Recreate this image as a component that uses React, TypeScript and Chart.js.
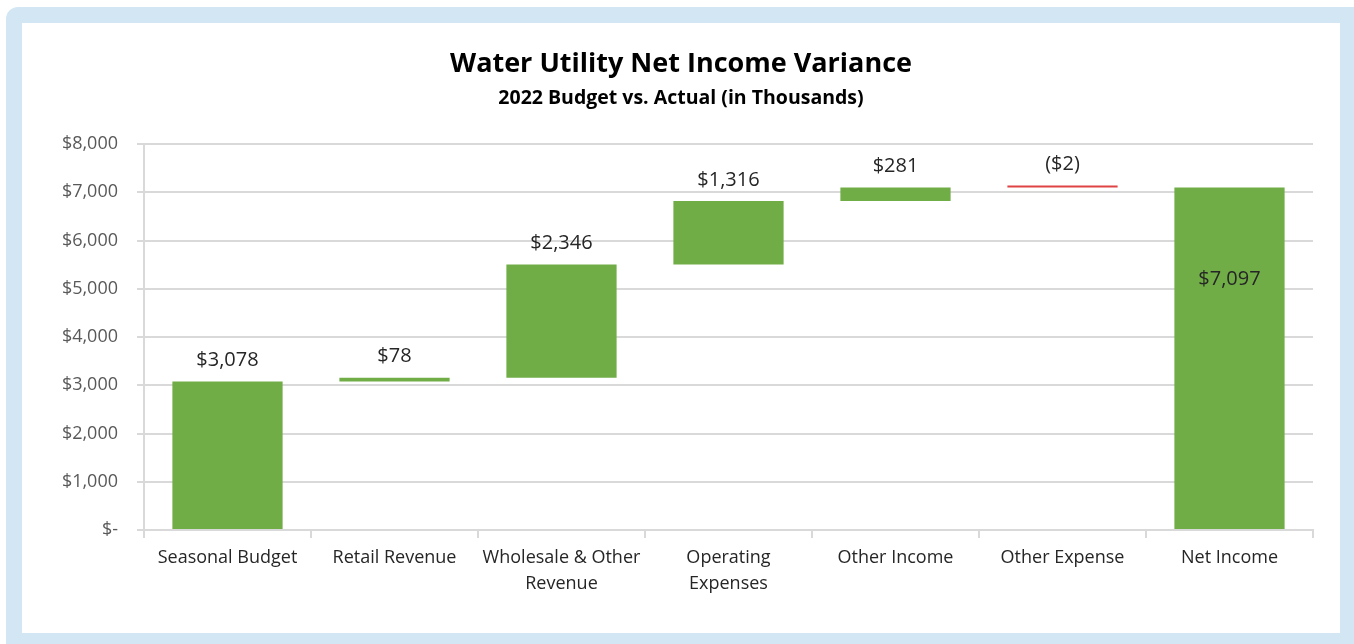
import React, { useEffect, useRef } from "react";
import { Chart, registerables } from "chart.js";

Chart.register(...registerables);

// ---- data ----
const categories: string[][] = [
  ["Seasonal Budget"],
  ["Retail Revenue"],
  ["Wholesale & Other", "Revenue"],
  ["Operating", "Expenses"],
  ["Other Income"],
  ["Other Expense"],
  ["Net Income"],
];
const changes = [3078, 78, 2346, 1316, 281, -2, 7097];
const barKinds = ["total", "delta", "delta", "delta", "delta", "delta", "total"];
const yMin = 0;
const yMax = 8000;
const yStep = 1000;

const titleText = "Water Utility Net Income Variance";
const subtitleText = "2022 Budget vs. Actual (in Thousands)";

const FONT = '"Open Sans", "Noto Sans", sans-serif';
const GREEN = "#70ad47";
const RED = "#e04343";

function buildRanges(): [number, number][] {
  let run = 0;
  return changes.map((v, i) => {
    if (barKinds[i] === "total") {
      run = v;
      return [0, v] as [number, number];
    }
    const start = run;
    run += v;
    return [start, run] as [number, number];
  });
}

function fmtLabel(v: number): string {
  const s = "$" + Math.abs(v).toLocaleString("en-US");
  return v < 0 ? "(" + s + ")" : s;
}

const labelPlugin = {
  id: "wfLabels",
  afterDatasetsDraw(chart: any) {
    const meta = chart.getDatasetMeta(0);
    const ctx = chart.ctx;
    ctx.save();
    ctx.font = `20px ${FONT}`;
    ctx.fillStyle = "#262626";
    ctx.textAlign = "center";
    ctx.textBaseline = "middle";
    meta.data.forEach((bar: any, i: number) => {
      const { x, y, base } = bar.getProps(["x", "y", "base"], true);
      const top = Math.min(y, base);
      const bottom = Math.max(y, base);
      const last = i === changes.length - 1;
      const ty = last ? top + (bottom - top) * 0.27 : top - 21;
      ctx.fillText(fmtLabel(changes[i]), x, ty);
    });
    ctx.restore();
  },
};

const titlePlugin = {
  id: "wfTitles",
  afterDraw(chart: any) {
    const ctx = chart.ctx;
    const cx = chart.width / 2;
    ctx.save();
    ctx.textAlign = "center";
    ctx.textBaseline = "middle";
    ctx.fillStyle = "#000000";
    ctx.font = `bold 27px ${FONT}`;
    ctx.fillText(titleText, cx, 41);
    ctx.font = `bold 19.5px ${FONT}`;
    ctx.fillText(subtitleText, cx, 75);
    ctx.restore();
  },
};

function WaterfallChart() {
  const ref = useRef<HTMLCanvasElement | null>(null);
  useEffect(() => {
    if (!ref.current) return;
    const chart = new Chart(ref.current, {
      type: "bar",
      data: {
        labels: categories,
        datasets: [
          {
            data: buildRanges() as any,
            backgroundColor: changes.map((v) => (v < 0 ? RED : GREEN)),
            borderWidth: 0,
            minBarLength: 2,
            barPercentage: 0.66,
            categoryPercentage: 1,
          },
        ],
      },
      options: {
        animation: false,
        responsive: false,
        layout: { padding: { top: 121, right: 27, left: 0, bottom: 0 } },
        plugins: {
          legend: { display: false },
          tooltip: { enabled: false },
          title: { display: false },
        },
        scales: {
          x: {
            grid: {
              display: true,
              drawOnChartArea: false,
              drawTicks: true,
              tickLength: 8,
              offset: true,
              color: "#d9d9d9",
              lineWidth: 2,
            },
            border: { display: true, color: "#d9d9d9", width: 2 },
            ticks: {
              color: "#262626",
              font: { family: FONT, size: 18, lineHeight: 26 / 18 },
              padding: 7,
              maxRotation: 0,
              autoSkip: false,
            },
            afterFit(scale: any) {
              scale.height = 103;
            },
          },
          y: {
            min: yMin,
            max: yMax,
            grid: {
              color: "#d9d9d9",
              lineWidth: 2,
              drawTicks: true,
              tickLength: 7,
            },
            border: { display: true, color: "#d9d9d9", width: 2 },
            ticks: {
              stepSize: yStep,
              color: "#595959",
              font: { family: FONT, size: 18 },
              padding: 19,
              callback: (v: any) =>
                Number(v) === 0 ? "$-" : "$" + Number(v).toLocaleString("en-US"),
            },
            afterFit(scale: any) {
              scale.width = 122;
            },
          },
        },
      },
      plugins: [labelPlugin, titlePlugin],
    } as any);
    return () => chart.destroy();
  }, []);
  return <canvas ref={ref} width={1318} height={610} style={{ display: "block" }} />;
}

export default function App() {
  return (
    <div
      style={{
        position: "fixed",
        left: 0,
        top: 0,
        width: 1354,
        height: 644,
        background: "#ffffff",
        overflow: "hidden",
      }}
    >
      <div
        style={{
          position: "absolute",
          left: 6,
          top: 7,
          width: 1370,
          height: 660,
          background: "#d2e7f3",
          borderRadius: 12,
        }}
      />
      <div
        style={{
          position: "absolute",
          left: 22,
          top: 23,
          width: 1318,
          height: 610,
          background: "#ffffff",
        }}
      >
        <WaterfallChart />
      </div>
    </div>
  );
}
